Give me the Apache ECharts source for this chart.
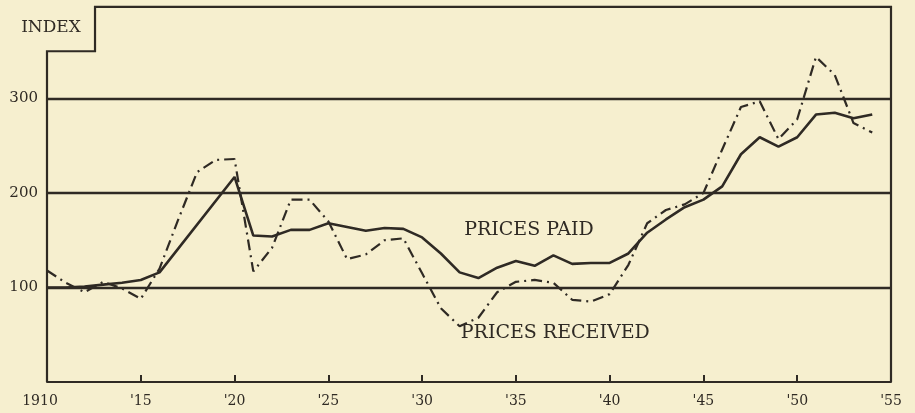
<!DOCTYPE html>
<html><head><meta charset="utf-8">
<script src="https://cdn.jsdelivr.net/npm/echarts@6/dist/echarts.min.js"></script>
<style>html,body{margin:0;padding:0;background:#f6efcf;}#c{width:915px;height:413px;}</style>
</head><body><div id="c"></div>
<script>
// ---- data ----
const paidYears = [1910,1911,1912,1913,1914,1915,1916,
  1920,1921,1922,1923,1924,1925,1926,1927,1928,1929,1930,1931,1932,1933,1934,1935,1936,1937,
  1938,1939,1940,1941,1942,1943,1944,1945,1946,1947,1948,1949,1950,1951,1952,1953,1954];
const pricesPaid = [100,100,101,103,105,108,116,
  217,155,154,161,161,168,164,160,163,162,153,136,116,110,121,128,123,134,
  125,126,126,136,158,172,185,193,207,241,259,249,259,283,285,279,283];
const receivedYears = [1910,1911,1912,1913,1914,1915,1916,1917,1918,1919,1920,1921,1922,1923,1924,
  1925,1926,1927,1928,1929,1930,1931,1932,1933,1934,1935,1936,1937,1938,1939,1940,1941,1942,1943,
  1944,1945,1946,1947,1948,1949,1950,1951,1952,1953,1954];
const pricesReceived = [118,105,95,106,99,88,120,172,222,235,236,117,142,193,193,
  170,130,135,150,152,115,78,59,68,95,106,108,105,87,85,93,124,168,182,
  188,200,246,291,297,257,278,344,325,274,264];
const xTickYears = [1910,1915,1920,1925,1930,1935,1940,1945,1950,1955];
const xTickLabels = ['1910',"'15","'20","'25","'30","'35","'40","'45","'50","'55"];
const yTickValues = [100,200,300];
const yTickLabels = ['100','200','300'];
const gridLineValues = [100,200,300];
const seriesNames = ['PRICES PAID','PRICES RECEIVED'];
const axisTitle = 'INDEX';

// ---- chart ----
const INK = '#2f2a24';
const FONT = 'DejaVu Serif';
const chart = echarts.init(document.getElementById('c'), null, {renderer:'canvas'});
const zip = (xs, ys) => xs.map((x, i) => [x, ys[i]]);

chart.setOption({
  backgroundColor: '#f6efcf',
  animation: false,
  grid: {left: 47, right: 24, top: 4, bottom: 31, containLabel: false},
  xAxis: {
    type: 'value', min: 1910, max: 1955, interval: 5,
    axisLine: {show: true, lineStyle: {color: INK, width: 2}},
    axisTick: {show: true, inside: true, length: 7, lineStyle: {color: INK, width: 2}},
    splitLine: {show: false},
    axisLabel: {
      color: INK, fontFamily: FONT, fontSize: 14, margin: 12,
      formatter: v => {
        const i = xTickYears.indexOf(Math.round(v));
        if (i < 0) return '';
        return i === 0 ? '{first|' + xTickLabels[i] + '}' : xTickLabels[i];
      },
      rich: {first: {color: INK, fontFamily: FONT, fontSize: 14, padding: [0, 14, 0, 0]}}
    }
  },
  yAxis: {
    type: 'value', min: 0, max: 400, interval: 100,
    axisLine: {show: false}, axisTick: {show: false}, splitLine: {show: false},
    axisLabel: {
      color: INK, fontFamily: FONT, fontSize: 15, margin: 9,
      showMinLabel: false, showMaxLabel: false,
      formatter: v => { const i = yTickValues.indexOf(v); return i >= 0 ? yTickLabels[i] : ''; }
    }
  },
  series: [
    {
      name: seriesNames[0], type: 'line', data: zip(paidYears, pricesPaid),
      symbol: 'none', smooth: false, z: 3,
      lineStyle: {color: INK, width: 2.6},
      markLine: {
        silent: true, symbol: 'none', label: {show: false},
        lineStyle: {color: INK, width: 2.4, type: 'solid'},
        data: gridLineValues.map(v => ({yAxis: v}))
      }
    },
    {
      name: seriesNames[1], type: 'line', data: zip(receivedYears, pricesReceived),
      symbol: 'none', smooth: false, z: 4,
      lineStyle: {color: INK, width: 2.2, type: [11, 5, 2, 5], cap: 'butt'}
    }
  ]
});

function drawDecor() {
  const p = (x, y) => chart.convertToPixel({gridIndex: 0}, [x, y]);
  const bl = p(1910, 0), step1 = p(1910, 350), step2 = p(1912.56, 350), step3 = p(1912.56, 397);
  const tr = p(1955, 397), br = p(1955, 0);
  const paidPos = p(1935.7, 161), recPos = p(1937.1, 52);
  chart.setOption({
    graphic: [
      {type: 'polyline', z: 10, shape: {points: [bl, step1, step2, step3, tr, br]},
       style: {stroke: INK, lineWidth: 2.2, fill: null}},
      {type: 'text', z: 10, x: 51, y: 28,
       style: {text: axisTitle, fill: INK, font: '17px "' + FONT + '"', align: 'center', verticalAlign: 'middle'}},
      {type: 'text', z: 10, x: paidPos[0], y: paidPos[1],
       style: {text: seriesNames[0], fill: INK, font: '19px "' + FONT + '"', align: 'center', verticalAlign: 'middle'}},
      {type: 'text', z: 10, x: recPos[0], y: recPos[1],
       style: {text: seriesNames[1], fill: INK, font: '19px "' + FONT + '"', align: 'center', verticalAlign: 'middle'}}
    ]
  });
}
drawDecor();
</script></body></html>
